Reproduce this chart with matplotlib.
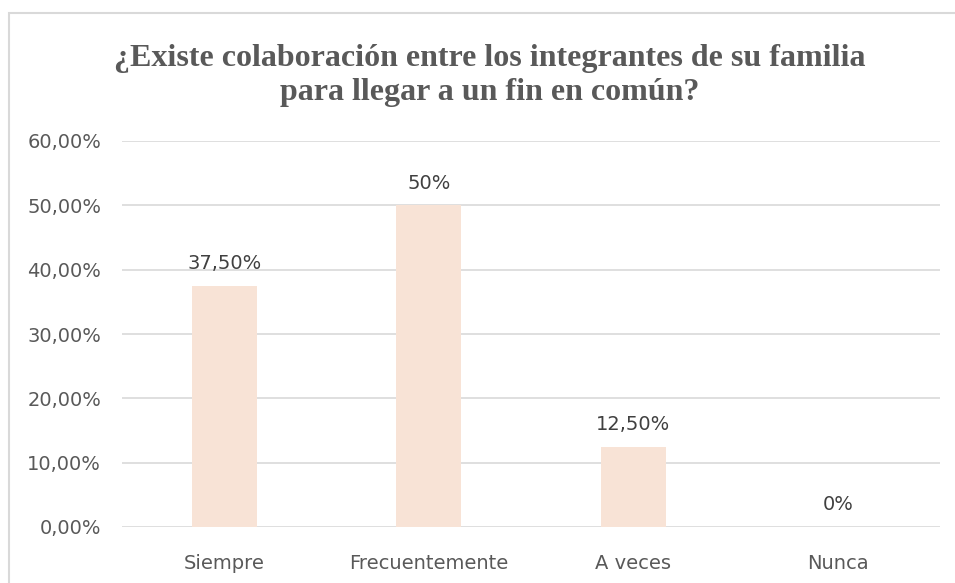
import matplotlib.pyplot as plt
from matplotlib.patches import Rectangle
from matplotlib.ticker import FuncFormatter, MultipleLocator

# Datos de la encuesta
categorias = ['Siempre', 'Frecuentemente', 'A veces', 'Nunca']
porcentajes = [0.375, 0.50, 0.125, 0.0]
etiquetas = ['37,50%', '50%', '12,50%', '0%']

titulo = ['¿Existe colaboración entre los integrantes de su familia',
          'para llegar a un fin en común?']

gris = '#595959'
color_barra = '#F8E3D6'

fig = plt.figure(figsize=(9.55, 5.83), dpi=100)

# marco gris del grafico
fig.patches.append(Rectangle((9 / 955, -0.1), 1.1, 1.1 - 13 / 583, transform=fig.transFigure,
                             fill=False, edgecolor='#D9D9D9', linewidth=1.5))

ax = fig.add_axes([122 / 955, 1 - 527 / 583, (940 - 122) / 955, (527 - 141) / 583])

x = range(len(categorias))
ax.bar(x, porcentajes, width=0.32, color=color_barra, zorder=2)

for i, (v, txt) in enumerate(zip(porcentajes, etiquetas)):
    ax.annotate(txt, (i, v), xytext=(0, 12), textcoords='offset points',
                ha='center', va='baseline', fontsize=14, color='#404040')

ax.set_ylim(0, 0.6)
ax.set_xlim(-0.5, 3.5)
ax.yaxis.set_major_locator(MultipleLocator(0.1))
ax.yaxis.set_major_formatter(FuncFormatter(lambda v, p: f'{v * 100:.2f}%'.replace('.', ',')))
ax.set_xticks(list(x))
ax.set_xticklabels(categorias)

ax.grid(axis='y', color='#D9D9D9', linewidth=1.2, zorder=0)
for s in ax.spines.values():
    s.set_visible(False)
ax.tick_params(length=0, colors=gris, labelsize=14)
ax.tick_params(axis='x', pad=19.5)
ax.tick_params(axis='y', pad=15)

# titulo en dos lineas (baselines a 66 y 100 px)
for linea, base in zip(titulo, [66, 100]):
    fig.text(490 / 955, 1 - base / 583, linea, ha='center', va='baseline', fontsize=23,
             fontweight='bold', family='Liberation Serif', color=gris)

fig.savefig('out.png', dpi=100)
